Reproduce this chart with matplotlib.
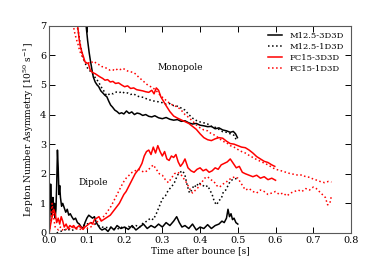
import matplotlib
matplotlib.use("Agg")
import matplotlib.pyplot as plt

plt.rcParams["font.family"] = "DejaVu Serif"
plt.rcParams["mathtext.fontset"] = "dejavuserif"

# --- Monopole ---
mono_m3d_t = [0.090, 0.098, 0.102, 0.106, 0.109, 0.113, 0.117, 0.122, 0.127, 0.131, 0.137, 0.143, 0.148, 0.153,
              0.158, 0.163, 0.168, 0.174, 0.180, 0.186, 0.192, 0.198, 0.205, 0.212, 0.219, 0.226, 0.233, 0.240,
              0.248, 0.256, 0.264, 0.272, 0.280, 0.290, 0.300, 0.310, 0.320, 0.330, 0.340, 0.350, 0.360, 0.370,
              0.380, 0.390, 0.400, 0.410, 0.420, 0.430, 0.440, 0.450, 0.460, 0.470, 0.480, 0.488, 0.494, 0.499]
mono_m3d_y = [8.2, 7.0, 6.5, 6.1, 5.85, 5.55, 5.27, 5.1, 5.0, 4.95, 4.8, 4.72, 4.65, 4.6,
              4.45, 4.32, 4.25, 4.15, 4.1, 4.03, 4.06, 4.02, 4.12, 4.04, 4.09, 4.0, 4.05, 4.03,
              3.97, 4.0, 3.94, 3.92, 3.96, 3.89, 3.86, 3.9, 3.84, 3.81, 3.83, 3.77, 3.79, 3.72,
              3.68, 3.7, 3.64, 3.62, 3.59, 3.6, 3.52, 3.55, 3.48, 3.45, 3.4, 3.43, 3.35, 3.22]

mono_m1d_t = [0.070, 0.074, 0.078, 0.082, 0.087, 0.091, 0.095, 0.100, 0.106, 0.113, 0.119, 0.125, 0.131, 0.137,
              0.144, 0.149, 0.153, 0.158, 0.163, 0.170, 0.178, 0.186, 0.193, 0.200, 0.208, 0.216, 0.224, 0.232,
              0.240, 0.250, 0.260, 0.270, 0.280, 0.290, 0.300, 0.310, 0.320, 0.330, 0.340, 0.350, 0.360, 0.370,
              0.380, 0.390, 0.400, 0.410, 0.420, 0.430, 0.440, 0.450, 0.460, 0.470, 0.480, 0.490, 0.497]
mono_m1d_y = [7.6, 7.0, 6.75, 6.4, 6.1, 5.9, 5.75, 5.6, 5.5, 5.42, 5.3, 5.2, 5.1, 4.95,
              4.82, 4.7, 4.64, 4.68, 4.72, 4.7, 4.76, 4.74, 4.78, 4.72, 4.73, 4.68, 4.7, 4.63,
              4.6, 4.58, 4.52, 4.48, 4.45, 4.43, 4.4, 4.35, 4.37, 4.3, 4.28, 4.22, 4.15, 4.0,
              3.88, 3.8, 3.75, 3.72, 3.68, 3.6, 3.57, 3.5, 3.42, 3.4, 3.35, 3.3, 3.12]

mono_f3d_t = [0.068, 0.072, 0.076, 0.080, 0.083, 0.087, 0.091, 0.095, 0.099, 0.104, 0.109, 0.115, 0.122, 0.129,
              0.135, 0.142, 0.148, 0.155, 0.162, 0.169, 0.176, 0.184, 0.192, 0.200, 0.208, 0.216, 0.224, 0.232,
              0.240, 0.248, 0.256, 0.264, 0.272, 0.278, 0.284, 0.290, 0.296, 0.303, 0.310, 0.320, 0.330, 0.340,
              0.350, 0.360, 0.370, 0.380, 0.390, 0.400, 0.410, 0.420, 0.430, 0.440, 0.450, 0.460, 0.470, 0.480,
              0.490, 0.500, 0.510, 0.520, 0.530, 0.540, 0.550, 0.560, 0.570, 0.580, 0.590, 0.598]
mono_f3d_y = [7.8, 7.3, 6.95, 6.5, 6.3, 6.1, 5.95, 5.78, 5.75, 5.72, 5.5, 5.42, 5.38, 5.32,
              5.27, 5.22, 5.16, 5.18, 5.1, 5.12, 5.05, 5.07, 5.0, 4.94, 4.97, 4.88, 4.9, 4.84,
              4.82, 4.8, 4.77, 4.75, 4.82, 4.7, 4.9, 4.82, 4.6, 4.45, 4.3, 4.1, 3.95, 3.88,
              3.82, 3.76, 3.7, 3.6, 3.5, 3.35, 3.22, 3.15, 3.12, 3.18, 3.22, 3.2, 3.1, 3.02,
              3.0, 2.95, 2.9, 2.88, 2.8, 2.7, 2.58, 2.5, 2.42, 2.38, 2.3, 2.25]

mono_f1d_t = [0.060, 0.064, 0.068, 0.072, 0.076, 0.080, 0.084, 0.088, 0.092, 0.096, 0.100, 0.105, 0.110, 0.116,
              0.122, 0.128, 0.134, 0.140, 0.147, 0.154, 0.161, 0.168, 0.175, 0.182, 0.189, 0.196, 0.203, 0.210,
              0.217, 0.224, 0.231, 0.238, 0.245, 0.252, 0.259, 0.266, 0.273, 0.280, 0.288, 0.296, 0.304, 0.312,
              0.320, 0.330, 0.340, 0.350, 0.360, 0.370, 0.380, 0.390, 0.400, 0.410, 0.420, 0.430, 0.440, 0.450,
              0.460, 0.470, 0.480, 0.490, 0.500, 0.510, 0.520, 0.530, 0.540, 0.550, 0.560, 0.570, 0.580, 0.590,
              0.600, 0.610, 0.620, 0.630, 0.640, 0.650, 0.660, 0.670, 0.680, 0.690, 0.700, 0.710, 0.720, 0.730,
              0.740, 0.748]
mono_f1d_y = [7.6, 7.0, 6.75, 6.55, 6.4, 6.2, 6.05, 5.95, 5.85, 5.78, 5.7, 5.75, 5.72, 5.8,
              5.76, 5.7, 5.68, 5.62, 5.6, 5.55, 5.5, 5.52, 5.48, 5.55, 5.52, 5.56, 5.5, 5.46,
              5.44, 5.42, 5.35, 5.25, 5.18, 5.1, 5.02, 4.96, 4.92, 4.85, 4.75, 4.62, 4.55, 4.45,
              4.38, 4.3, 4.26, 4.15, 4.0, 3.9, 3.78, 3.65, 3.55, 3.48, 3.45, 3.35, 3.3, 3.2,
              3.1, 3.05, 2.95, 2.9, 2.82, 2.75, 2.7, 2.62, 2.55, 2.48, 2.42, 2.36, 2.3, 2.22,
              2.15, 2.12, 2.08, 2.04, 2.0, 1.98, 1.95, 1.96, 1.9, 1.88, 1.82, 1.78, 1.73, 1.7,
              1.74, 1.72]

# --- Dipole ---
dip_m3d_t = [0.000, 0.002, 0.004, 0.006, 0.008, 0.010, 0.012, 0.014, 0.016, 0.018, 0.020, 0.022, 0.024, 0.026,
             0.028, 0.030, 0.033, 0.036, 0.040, 0.044, 0.048, 0.052, 0.056, 0.060, 0.065, 0.070, 0.075, 0.080,
             0.085, 0.090, 0.095, 0.100, 0.105, 0.110, 0.115, 0.120, 0.125, 0.130, 0.135, 0.140, 0.148, 0.156,
             0.164, 0.172, 0.180, 0.190, 0.200, 0.210, 0.220, 0.230, 0.240, 0.250, 0.260, 0.270, 0.280, 0.290,
             0.300, 0.310, 0.320, 0.330, 0.338, 0.345, 0.352, 0.360, 0.370, 0.380, 0.390, 0.400, 0.410, 0.420,
             0.430, 0.440, 0.450, 0.458, 0.464, 0.470, 0.474, 0.478, 0.482, 0.486, 0.490, 0.495, 0.500]
dip_m3d_y = [0.05, 0.6, 1.65, 0.9, 0.6, 1.2, 0.7, 1.0, 0.5, 0.8, 1.6, 2.8, 2.2, 1.3,
             1.6, 1.2, 0.9, 1.0, 0.85, 0.7, 0.8, 0.6, 0.65, 0.55, 0.45, 0.5, 0.35, 0.3,
             0.2, 0.15, 0.35, 0.5, 0.6, 0.55, 0.5, 0.55, 0.35, 0.25, 0.15, 0.1, 0.15, 0.05,
             0.2, 0.1, 0.25, 0.15, 0.2, 0.12, 0.25, 0.1, 0.2, 0.3, 0.15, 0.25, 0.18, 0.3,
             0.2, 0.35, 0.25, 0.4, 0.55, 0.35, 0.2, 0.25, 0.15, 0.3, 0.1, 0.2, 0.15, 0.28,
             0.15, 0.25, 0.3, 0.4, 0.35, 0.5, 0.8, 0.55, 0.65, 0.45, 0.5, 0.35, 0.3]

dip_m1d_t = [0.020, 0.030, 0.040, 0.050, 0.060, 0.070, 0.080, 0.090, 0.100, 0.110, 0.120, 0.130, 0.140, 0.150,
             0.160, 0.170, 0.180, 0.190, 0.200, 0.210, 0.220, 0.230, 0.240, 0.250, 0.260, 0.268, 0.276, 0.284,
             0.292, 0.300, 0.308, 0.316, 0.324, 0.332, 0.340, 0.347, 0.354, 0.360, 0.366, 0.372, 0.378, 0.384,
             0.390, 0.396, 0.402, 0.408, 0.414, 0.420, 0.426, 0.432, 0.438, 0.444, 0.450, 0.456, 0.462, 0.468,
             0.474, 0.480, 0.486, 0.492, 0.498]
dip_m1d_y = [0.0, 0.05, 0.1, 0.12, 0.08, 0.15, 0.2, 0.25, 0.3, 0.35, 0.32, 0.25, 0.2, 0.18,
             0.2, 0.15, 0.12, 0.2, 0.15, 0.22, 0.18, 0.25, 0.2, 0.35, 0.4, 0.5, 0.45, 0.65,
             0.9, 1.15, 1.25, 1.45, 1.55, 1.7, 1.95, 2.05, 2.1, 1.95, 1.6, 1.35, 1.45, 1.62,
             1.55, 1.7, 1.65, 1.6, 1.55, 1.6, 1.45, 1.3, 1.05, 0.95, 1.1, 1.15, 1.4, 1.45,
             1.6, 1.75, 1.8, 1.82, 1.85]

dip_f3d_t = [0.000, 0.004, 0.008, 0.012, 0.016, 0.020, 0.024, 0.028, 0.032, 0.036, 0.040, 0.045, 0.050, 0.055,
             0.060, 0.065, 0.070, 0.075, 0.080, 0.085, 0.090, 0.095, 0.100, 0.105, 0.110, 0.115, 0.120, 0.126,
             0.132, 0.138, 0.144, 0.150, 0.156, 0.162, 0.168, 0.174, 0.180, 0.186, 0.192, 0.198, 0.204, 0.210,
             0.216, 0.222, 0.228, 0.234, 0.240, 0.246, 0.252, 0.258, 0.264, 0.270, 0.276, 0.282, 0.288, 0.294,
             0.300, 0.306, 0.312, 0.318, 0.324, 0.330, 0.336, 0.342, 0.348, 0.354, 0.360, 0.368, 0.376, 0.384,
             0.392, 0.400, 0.408, 0.416, 0.424, 0.432, 0.440, 0.448, 0.456, 0.464, 0.472, 0.480, 0.488, 0.496,
             0.504, 0.512, 0.520, 0.530, 0.540, 0.550, 0.560, 0.570, 0.580, 0.590, 0.600]
dip_f3d_y = [0.0, 0.3, 0.55, 0.8, 0.65, 0.35, 0.5, 0.3, 0.55, 0.4, 0.2, 0.3, 0.15, 0.25,
             0.2, 0.25, 0.15, 0.2, 0.25, 0.18, 0.12, 0.2, 0.25, 0.3, 0.35, 0.3, 0.45, 0.5,
             0.55, 0.4, 0.45, 0.5, 0.55, 0.6, 0.7, 0.8, 0.9, 1.0, 1.15, 1.3, 1.4, 1.55,
             1.7, 1.85, 2.0, 2.1, 2.2, 2.35, 2.6, 2.75, 2.8, 2.65, 2.9, 2.7, 2.95, 2.75,
             2.6, 2.75, 2.5, 2.45, 2.6, 2.55, 2.65, 2.4, 2.25, 2.35, 2.5, 2.2, 2.1, 2.05,
             2.15, 2.2, 2.1, 2.15, 2.05, 2.1, 2.2, 2.15, 2.3, 2.35, 2.4, 2.5, 2.35, 2.2,
             2.25, 2.05, 2.0, 1.95, 1.9, 1.95, 1.85, 1.9, 1.8, 1.85, 1.78]

dip_f1d_t = [0.000, 0.004, 0.008, 0.012, 0.016, 0.020, 0.025, 0.030, 0.035, 0.040, 0.050, 0.060, 0.070, 0.080,
             0.090, 0.100, 0.110, 0.120, 0.130, 0.140, 0.148, 0.156, 0.164, 0.172, 0.180, 0.188, 0.196, 0.204,
             0.212, 0.220, 0.228, 0.236, 0.244, 0.252, 0.260, 0.268, 0.276, 0.284, 0.292, 0.300, 0.308, 0.316,
             0.324, 0.332, 0.340, 0.348, 0.356, 0.364, 0.372, 0.380, 0.388, 0.396, 0.404, 0.412, 0.420, 0.428,
             0.436, 0.444, 0.452, 0.460, 0.468, 0.476, 0.484, 0.492, 0.500, 0.510, 0.520, 0.530, 0.540, 0.550,
             0.560, 0.570, 0.580, 0.590, 0.600, 0.610, 0.620, 0.630, 0.640, 0.650, 0.660, 0.670, 0.680, 0.690,
             0.700, 0.708, 0.716, 0.724, 0.732, 0.738, 0.744, 0.748]
dip_f1d_y = [0.0, 0.4, 1.0, 0.5, 0.2, 0.15, 0.1, 0.2, 0.1, 0.15, 0.1, 0.2, 0.15, 0.1,
             0.2, 0.15, 0.2, 0.3, 0.4, 0.5, 0.6, 0.75, 0.9, 1.1, 1.3, 1.5, 1.7, 1.85,
             1.95, 2.05, 2.1, 2.15, 2.1, 2.05, 2.1, 2.2, 2.3, 2.15, 2.0, 1.95, 1.8, 1.7,
             1.85, 2.0, 2.05, 2.0, 1.85, 1.7, 1.5, 1.35, 1.45, 1.55, 1.7, 1.85, 1.9, 1.8,
             1.75, 1.6, 1.55, 1.65, 1.7, 1.8, 1.85, 1.9, 1.85, 1.65, 1.45, 1.5, 1.4, 1.35,
             1.45, 1.4, 1.3, 1.35, 1.4, 1.3, 1.35, 1.25, 1.35, 1.4, 1.45, 1.4, 1.5, 1.45,
             1.55, 1.5, 1.4, 1.3, 1.2, 0.95, 1.0, 1.25]

fig = plt.figure(figsize=(3.9, 2.6), dpi=100)
ax = fig.add_axes([0.126, 0.104, 0.774, 0.797])

lw = 1.1
ax.plot(mono_m3d_t, mono_m3d_y, color="black", lw=lw, label="M12.5-3D3D")
ax.plot(mono_m1d_t, mono_m1d_y, color="black", lw=lw, ls=":", label="M12.5-1D3D")
ax.plot(mono_f3d_t, mono_f3d_y, color="red", lw=lw, label="FC15-3D3D")
ax.plot(mono_f1d_t, mono_f1d_y, color="red", lw=lw, ls=":", label="FC15-1D3D")

ax.plot(dip_m3d_t, dip_m3d_y, color="black", lw=lw)
ax.plot(dip_m1d_t, dip_m1d_y, color="black", lw=lw, ls=":")
ax.plot(dip_f3d_t, dip_f3d_y, color="red", lw=lw)
ax.plot(dip_f1d_t, dip_f1d_y, color="red", lw=lw, ls=":")

ax.text(0.286, 5.6, "Monopole", fontsize=6.5, va="center")
ax.text(0.078, 1.72, "Dipole", fontsize=6.5, va="center")

ax.set_xlim(0, 0.8)
ax.set_ylim(0, 7)
ax.set_xticks([0.0, 0.1, 0.2, 0.3, 0.4, 0.5, 0.6, 0.7, 0.8])
ax.set_yticks(range(8))
ax.tick_params(direction="in", top=True, right=True, length=4, width=0.7, labelsize=7, pad=2)
for s in ax.spines.values():
    s.set_linewidth(0.8)
    s.set_color("0.35")

ax.set_xlabel("Time after bounce [s]", fontsize=6.5, labelpad=1)
ax.set_ylabel(r"Lepton Number Asymmetry [10$^{50}$ s$^{-1}$]", fontsize=6.5, labelpad=3)

ax.legend(loc="upper right", frameon=False, fontsize=6, handlelength=1.6, handletextpad=1.0,
          labelspacing=0.35, borderaxespad=0.4)

fig.savefig("out.png", dpi=100)
